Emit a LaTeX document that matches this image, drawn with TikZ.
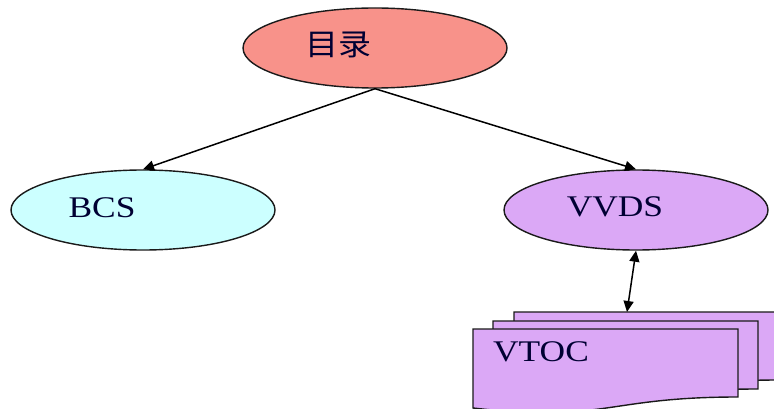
\documentclass[tikz,border=0pt]{standalone}
\usepackage{fontspec}
\setmainfont{Liberation Serif}
\newfontfamily\cjk{Noto Sans CJK SC}
\usetikzlibrary{shapes.geometric,arrows.meta}

\definecolor{salmonfill}{HTML}{F8928A}
\definecolor{cyanfill}{HTML}{CCFFFF}
\definecolor{lilacfill}{HTML}{DBA8F6}
\definecolor{inkline}{HTML}{1A1A1A}

\tikzset{
  bubble/.style={ellipse, draw=inkline, line width=1.4pt, inner sep=0pt,
    minimum width=264pt, minimum height=80pt},
  caption/.style={inner sep=0pt, font=\fontsize{30}{32}\selectfont, text=black!80!blue},
  tip/.style={Triangle[length=11pt,width=10pt]},
  link/.style={line width=1.5pt, -{Triangle[length=11pt,width=10pt]}},
  bilink/.style={line width=1.5pt, {Triangle[length=11pt,width=10pt]}-{Triangle[length=11pt,width=10pt]}},
  sheet/.style={draw=inkline, line width=1.4pt, fill=lilacfill},
  docpage/.pic={
    \path[sheet] (0,0) -- (265,0) -- (265,68)
      .. controls (132.5,68) and (132.5,94) .. (0,79) -- cycle;
  }
}
\newcommand{\wide}[1]{\scalebox{1.18}[1]{#1}}

\begin{document}
\begin{tikzpicture}[x=1pt, y=-1pt]
  \clip (0,0) rectangle (774,409);
  \fill[white] (0,0) rectangle (774,409);

  % ellipses
  \node[bubble, fill=salmonfill] (catalog) at (375,48) {};
  \node[bubble, fill=cyanfill]   (bcs)     at (143,210) {};
  \node[bubble, fill=lilacfill]  (vvds)    at (636,210) {};

  \node[caption] (catalogtext) at (338,45)  {\scalebox{1.1}[1]{\cjk 目录}};
  \node[caption] (bcstext)     at (102,208) {\wide{BCS}};
  \node[caption] (vvdstext)    at (615,207) {\wide{VVDS}};

  % stacked VTOC pages
  \pic at (514,312) {docpage};
  \pic at (493,321) {docpage};
  \pic at (473,329) {docpage};
  \coordinate (vtoctop) at (627,312);
  \node[caption] (vtoctext) at (541,352) {\wide{VTOC}};

  % connectors
  \draw[link] (catalog.south) -- (bcs.north);
  \draw[link] (catalog.south) -- (vvds.north);
  \draw[bilink] (vvds.south) -- (vtoctop);
\end{tikzpicture}
\end{document}
